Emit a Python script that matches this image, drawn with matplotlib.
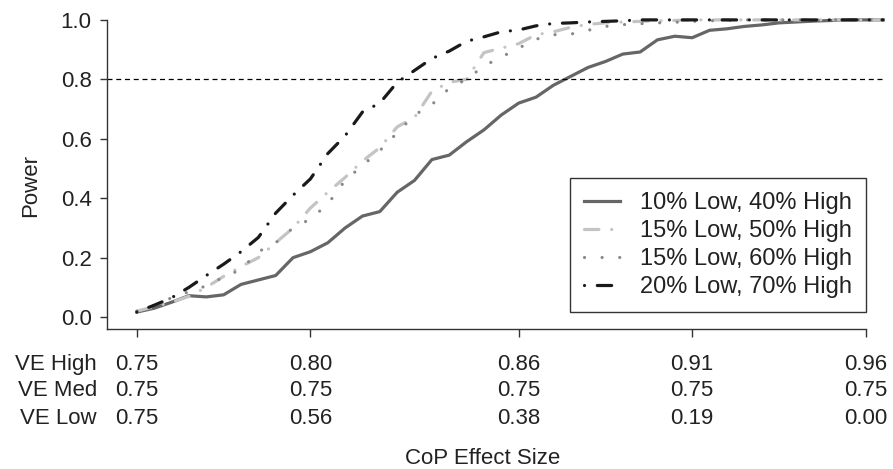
import matplotlib
matplotlib.use("Agg")
import matplotlib.pyplot as plt
import matplotlib.transforms as mtransforms
import numpy as np

# x grid: VE High from 0.75 up to ~0.965 in steps of 0.005
ve_grid = np.round(np.arange(0.750, 0.9651, 0.005), 3)

power_10_40 = [0.017, 0.03, 0.05, 0.072, 0.068, 0.075, 0.11, 0.125, 0.14, 0.20,
               0.22, 0.25, 0.30, 0.34, 0.355, 0.42, 0.46, 0.53, 0.545, 0.59,
               0.63, 0.68, 0.72, 0.74, 0.78, 0.81, 0.84, 0.86, 0.885, 0.892,
               0.933, 0.945, 0.94, 0.965, 0.97, 0.978, 0.983, 0.99, 0.993, 0.996,
               0.998, 1.0, 1.0, 1.0]
power_15_50 = [0.02, 0.035, 0.05, 0.07, 0.10, 0.137, 0.17, 0.20, 0.25, 0.30,
               0.367, 0.42, 0.47, 0.525, 0.57, 0.64, 0.672, 0.76, 0.79, 0.80,
               0.89, 0.905, 0.92, 0.95, 0.96, 0.975, 0.985, 0.99, 0.993, 0.995,
               0.997, 0.998, 1.0, 1.0, 1.0, 1.0, 1.0, 1.0, 1.0, 1.0,
               1.0, 1.0, 1.0, 1.0]
power_15_60 = [0.02, 0.04, 0.065, 0.085, 0.105, 0.135, 0.16, 0.22, 0.25, 0.30,
               0.33, 0.38, 0.46, 0.51, 0.56, 0.62, 0.68, 0.715, 0.77, 0.80,
               0.845, 0.875, 0.905, 0.935, 0.95, 0.952, 0.965, 0.978, 0.984, 0.987,
               0.99, 0.992, 0.995, 0.997, 0.998, 1.0, 1.0, 1.0, 1.0, 1.0,
               1.0, 1.0, 1.0, 1.0]
power_20_70 = [0.017, 0.04, 0.065, 0.10, 0.14, 0.178, 0.22, 0.268, 0.35, 0.41,
               0.465, 0.55, 0.61, 0.69, 0.72, 0.79, 0.83, 0.87, 0.895, 0.928,
               0.943, 0.96, 0.966, 0.98, 0.988, 0.99, 0.993, 0.995, 0.997, 1.0,
               1.0, 1.0, 1.0, 1.0, 1.0, 1.0, 1.0, 1.0, 1.0, 1.0,
               1.0, 1.0, 1.0, 1.0]

series_labels = ["10% Low, 40% High", "15% Low, 50% High",
                 "15% Low, 60% High", "20% Low, 70% High"]

tick_ve_high = [0.75, 0.80, 0.86, 0.91, 0.96]
tick_ve_med = ["0.75", "0.75", "0.75", "0.75", "0.75"]
tick_ve_low = ["0.75", "0.56", "0.38", "0.19", "0.00"]
target_power = 0.8

plt.rcParams["font.family"] = ["Liberation Sans", "DejaVu Sans"]
FS = 16
TXT = "#222222"

W, H = 893, 469
fig = plt.figure(figsize=(W / 100, H / 100), dpi=100)

# R-style 4% padding around the data range
x0, x1 = ve_grid.min(), ve_grid.max()
pad = 0.04 * (x1 - x0)
px_per_unit = 3471.0
ax_w = (x1 - x0 + 2 * pad) * px_per_unit
ax = fig.add_axes([107 / W, (H - 329) / H, ax_w / W, (329 - 8) / H])
ax.set_xlim(x0 - pad, x1 + pad)
ax.set_ylim(-0.04, 1.04)

lw = 2.3
ax.plot(ve_grid, power_10_40, color="#666666", lw=lw, solid_joinstyle="round",
        label=series_labels[0])
ax.plot(ve_grid, power_15_50, color="#c4c4c4", lw=lw, dashes=(4.5, 4, 0.01, 4),
        dash_capstyle="round", label=series_labels[1])
ax.plot(ve_grid, power_15_60, color="#888888", lw=lw, dashes=(0.01, 5.5),
        dash_capstyle="round", label=series_labels[2])
ax.plot(ve_grid, power_20_70, color="#1a1a1a", lw=lw, dashes=(0.01, 4, 4.5, 4),
        dash_capstyle="round", label=series_labels[3])

ax.hlines(target_power, x0 - pad, x1, colors="black", lw=0.9,
          linestyles=(0, (4, 3)))

for s in ["top", "right"]:
    ax.spines[s].set_visible(False)
for s in ["left", "bottom"]:
    ax.spines[s].set_color("#333333")
    ax.spines[s].set_linewidth(1.0)
ax.spines["left"].set_bounds(-0.04, 1.0)
ax.spines["bottom"].set_bounds(x0 - pad, tick_ve_high[-1])

ax.set_yticks(np.arange(0, 1.01, 0.2))
ax.set_yticklabels([f"{v:.1f}" for v in np.arange(0, 1.01, 0.2)])
ax.tick_params(axis="y", length=5, width=1, color="#333333", labelsize=FS,
               labelcolor=TXT, pad=6)
ax.set_xticks(tick_ve_high)
ax.set_xticklabels([""] * len(tick_ve_high))
ax.tick_params(axis="x", length=6, width=1, color="#333333")

# three-row tick labels underneath
trans = mtransforms.blended_transform_factory(ax.transData, fig.transFigure)
rows = [("VE High", [f"{v:.2f}" for v in tick_ve_high], 369.5),
        ("VE Med", tick_ve_med, 396.0),
        ("VE Low", tick_ve_low, 423.5)]
for name, vals, base in rows:
    fig.text(97 / W, 1 - base / H, name, ha="right", va="baseline",
             fontsize=FS, color=TXT)
    for xv, lab in zip(tick_ve_high, vals):
        ax.text(xv, 1 - base / H, lab, transform=trans, ha="center",
                va="baseline", fontsize=FS, color=TXT)

fig.text(483 / W, 1 - 464 / H, "CoP Effect Size", ha="center", va="baseline",
         fontsize=FS, color=TXT)
ax.set_ylabel("Power", fontsize=FS, color=TXT)
ax.yaxis.set_label_coords((41 - 107) / ax_w, (329 - 185) / 321)

leg = ax.legend(loc="lower right", bbox_to_anchor=(866 / W, 1 - 312 / H),
                bbox_transform=fig.transFigure, borderaxespad=0,
                fontsize=17, frameon=True, fancybox=False, framealpha=1,
                edgecolor="#333333", handlelength=1.5, handletextpad=0.85,
                labelspacing=0.25, borderpad=0.6)
leg.get_frame().set_linewidth(1.0)
for t in leg.get_texts():
    t.set_color(TXT)

fig.savefig("out.png", dpi=100)
